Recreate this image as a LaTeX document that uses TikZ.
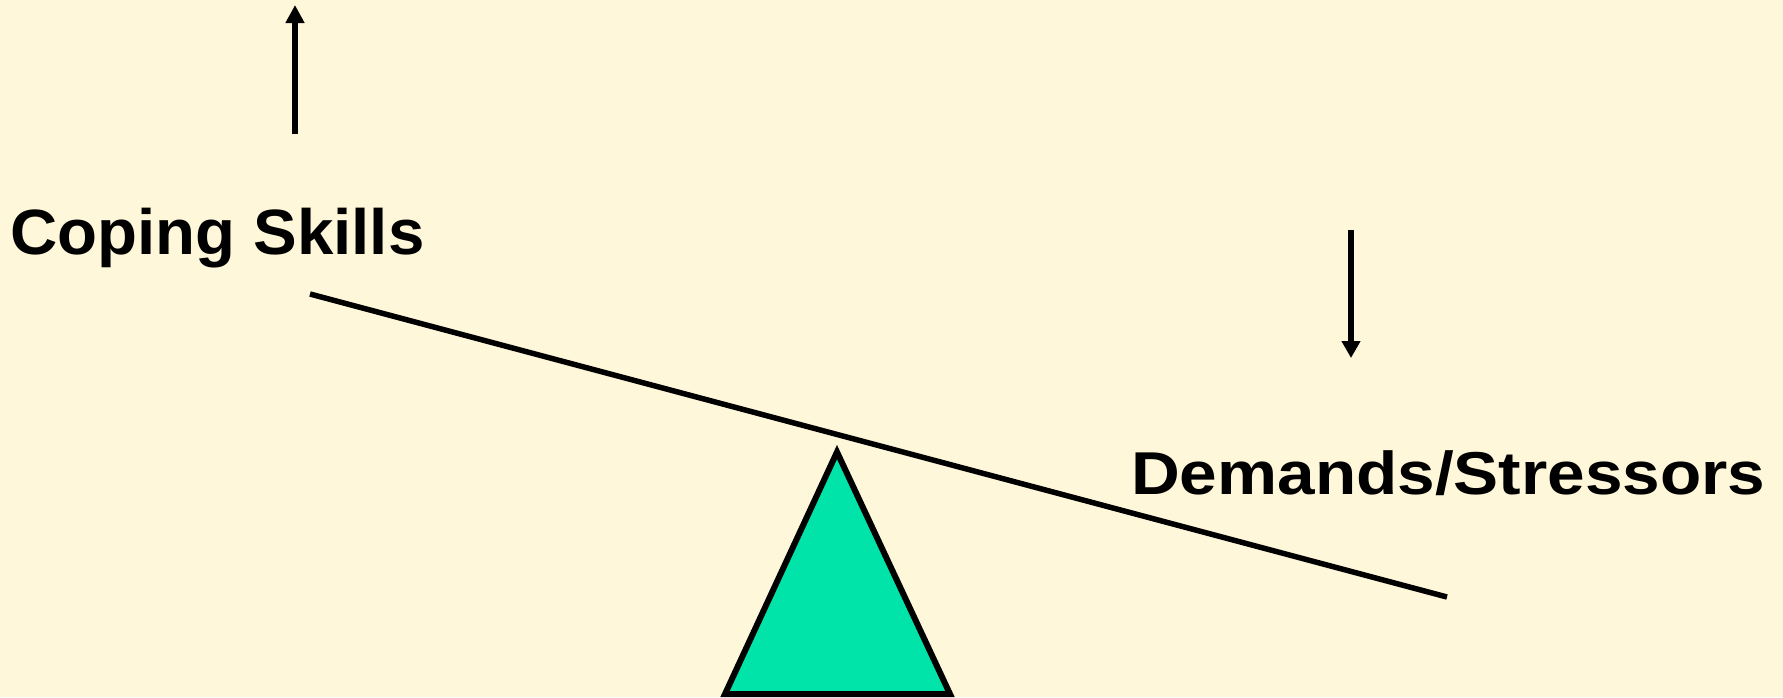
\documentclass[tikz,border=0pt]{standalone}
\usepackage{fontspec}
\setmainfont{Liberation Sans}
\usetikzlibrary{arrows.meta}
\definecolor{bgcream}{RGB}{255,247,217}
\definecolor{fulcrum}{RGB}{0,227,169}
\tikzset{
  lbl/.style={inner sep=0pt, anchor=base west, font=\bfseries},
  force/.style={line width=6pt, -{Triangle[length=18pt,width=18pt]}},
  beamline/.style={line width=5.5pt},
}
\begin{document}
\begin{tikzpicture}[x=1pt,y=-1pt]
\fill[bgcream] (0,0) rectangle (1783,697);
\useasboundingbox (0,0) rectangle (1783,697);
% fulcrum
\draw[line width=6pt, fill=fulcrum, line join=miter] (837,452) -- (950,694) -- (725,694) -- cycle;
% beam
\coordinate (bl) at (310,294);
\coordinate (br) at (1447,597);
\draw[beamline] (bl) -- (br);
% arrows
\coordinate (upS) at (295,134);
\coordinate (upE) at (295,5);
\draw[force] (upS) -- (upE);
\coordinate (dnS) at (1351,230);
\coordinate (dnE) at (1351,358);
\draw[line width=6pt, -{Triangle[length=17pt,width=18pt]}] (dnS) -- (dnE);
% labels
\node[lbl] (coping) at (10,254) {\scalebox{1.022}[1]{\fontsize{64pt}{70pt}\selectfont Coping Skills}};
\node[lbl] (demands) at (1131,494) {\scalebox{1.116}[1]{\fontsize{60.5pt}{66pt}\selectfont Demands/Stressors}};
\end{tikzpicture}
\end{document}
